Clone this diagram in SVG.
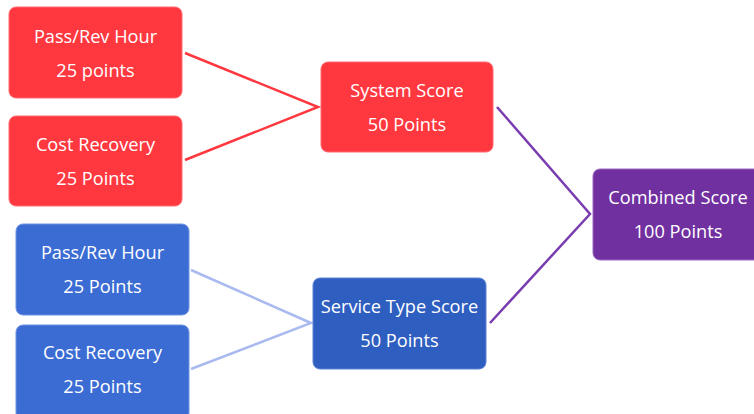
<svg xmlns="http://www.w3.org/2000/svg" width="754" height="414" viewBox="0 0 754 414">
<style>
text{font-family:"Open Sans","Liberation Sans",sans-serif;font-size:18.2px;fill:#fff;text-anchor:middle}
.red{fill:#FF383F;stroke:#FF6B70;stroke-width:1}
.blue{fill:#3B6CD3;stroke:#6F93E0;stroke-width:1}
.dblue{fill:#2E5EC0;stroke:#5C82D6;stroke-width:1}
.purple{fill:#7030A0;stroke:#9A66C0;stroke-width:1}
.c{fill:none;stroke-width:2.5}
</style>
<rect width="754" height="414" fill="#fff"/>
<g id="connectors">
<path class="c" stroke="#FF383F" d="M185 53 L318 107 L185 160"/>
<path class="c" stroke="#A9BAF0" d="M191 270 L311 323 L191 369"/>
<path class="c" stroke="#7A3DB0" d="M497 107 L590 214 L490 323"/>
</g>
<g id="n1"><rect class="red" x="9" y="7" width="173" height="91" rx="7"/><text x="95.5" y="43">Pass/Rev Hour</text><text x="95.5" y="77">25 points</text></g>
<g id="n2"><rect class="red" x="9" y="116" width="173" height="90" rx="7"/><text x="95.5" y="151">Cost Recovery</text><text x="95.5" y="185">25 Points</text></g>
<g id="n3"><rect class="blue" x="16" y="224" width="173" height="91" rx="7"/><text x="102.5" y="259">Pass/Rev Hour</text><text x="102.5" y="293">25 Points</text></g>
<g id="n4"><rect class="blue" x="16" y="325" width="173" height="95" rx="7"/><text x="102.5" y="359">Cost Recovery</text><text x="102.5" y="393">25 Points</text></g>
<g id="n5"><rect class="red" x="321" y="62" width="172" height="90" rx="7"/><text x="407" y="97">System Score</text><text x="407" y="131">50 Points</text></g>
<g id="n6"><rect class="dblue" x="313" y="278" width="173" height="91" rx="7"/><text x="399.5" y="313">Service Type Score</text><text x="399.5" y="347">50 Points</text></g>
<g id="n7"><rect class="purple" x="593" y="169" width="170" height="91" rx="7"/><text x="678" y="204">Combined Score</text><text x="678" y="238">100 Points</text></g>
</svg>
